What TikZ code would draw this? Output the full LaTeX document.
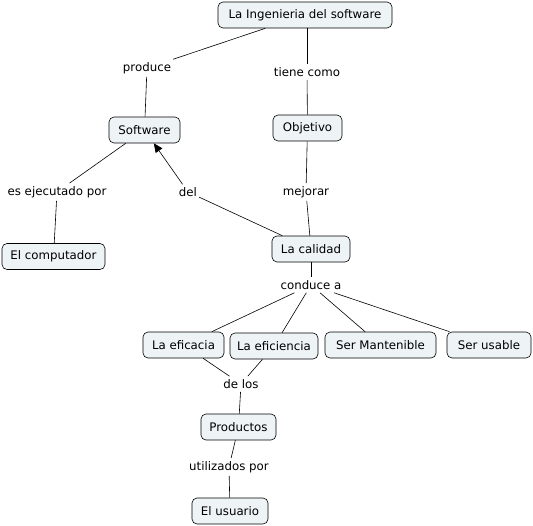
\documentclass[tikz,border=0pt]{standalone}
\usepackage{fontspec}
\setmainfont{DejaVu Sans}
\usetikzlibrary{arrows.meta}
\definecolor{boxfill}{RGB}{238,243,246}
\begin{document}
\begin{tikzpicture}[x=1pt,y=-1pt,
  concept/.style={draw=black, line width=0.6pt, fill=boxfill, rounded corners=5pt,
    minimum height=26pt, inner sep=2pt, font=\fontsize{11.8}{13}\selectfont},
  linkword/.style={inner xsep=2pt, inner ysep=3pt, font=\fontsize{11.8}{13}\selectfont},
  conn/.style={line width=0.6pt},
  arr/.style={line width=0.6pt, -{Triangle[length=9pt,width=8pt]}}]
\useasboundingbox (0,0) rectangle (533,525);
% concepts
\node[concept, minimum width=174pt] (ing) at (305,15) {La Ingenieria del software};
\node[concept, minimum width=71pt] (sw) at (144.5,130) {Software};
\node[concept, minimum width=69pt] (obj) at (307.5,128) {Objetivo};
\node[concept, minimum width=103pt] (comp) at (53.5,256.5) {El computador};
\node[concept, minimum width=78pt] (cal) at (311,249) {La calidad};
\node[concept, minimum width=81pt] (efa) at (183.5,345) {La eficacia};
\node[concept, minimum width=88pt] (efi) at (274,346) {La eficiencia};
\node[concept, minimum width=111pt] (man) at (380.5,345) {Ser Mantenible};
\node[concept, minimum width=84pt] (usa) at (489,345) {Ser usable};
\node[concept, minimum width=75pt] (prod) at (238.5,427) {Productos};
\node[concept, minimum width=76pt] (usu) at (230,511) {El usuario};
% linking words
\node[linkword] (l1) at (147,68) {produce};
\node[linkword] (l2) at (307,72) {tiene como};
\node[linkword] (l3) at (57,192) {es ejecutado por};
\node[linkword] (l4) at (188,192) {del};
\node[linkword] (l5) at (306,192) {mejorar};
\node[linkword] (l6) at (311,285) {conduce a};
\node[linkword] (l7) at (241,384) {de los};
\node[linkword] (l8) at (229,467) {utilizados por};
% connectors
\draw[conn] (ing) -- (l1);
\draw[conn] (l1) -- (sw);
\draw[conn] (ing.south -| l2) -- (l2);
\draw[conn] (l2) -- (obj);
\draw[conn] (sw) -- (l3);
\draw[conn] (l3) -- (comp);
\draw[conn] (cal) -- (l4);
\draw[arr] (l4) -- (sw);
\draw[conn] (obj) -- (l5);
\draw[conn] (l5) -- (cal);
\draw[conn] (cal) -- (l6);
\draw[conn] (l6) -- (efa);
\draw[conn] (l6) -- (efi);
\draw[conn] (l6) -- (man);
\draw[conn] (l6) -- (usa);
\draw[conn] (efa) -- (l7);
\draw[conn] (efi) -- (l7);
\draw[conn] (l7) -- (prod);
\draw[conn] (prod) -- (l8);
\draw[conn] (l8) -- (usu);
\end{tikzpicture}
\end{document}
